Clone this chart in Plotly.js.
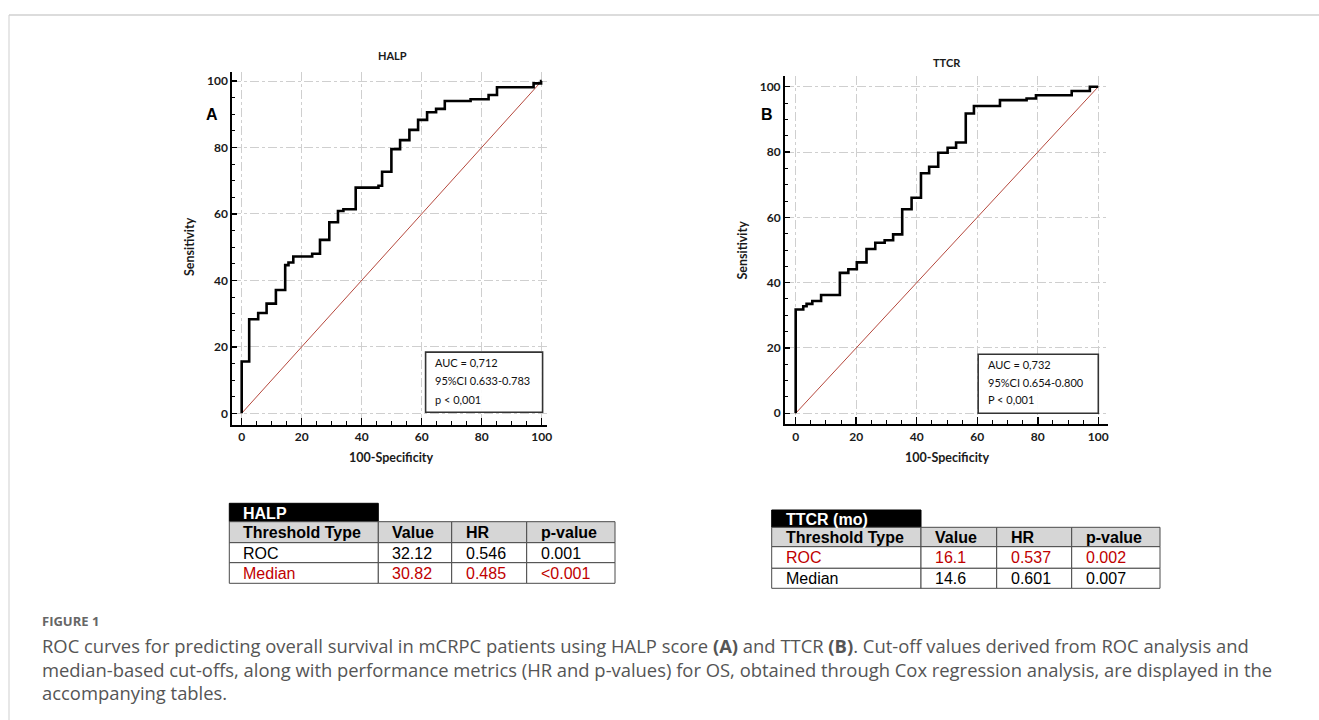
<!DOCTYPE html>
<html>
<head>
<meta charset="utf-8">
<script src="https://cdn.plot.ly/plotly-3.0.1.min.js"></script>
<style>html,body{margin:0;padding:0;background:#fff;}#chart{width:1319px;height:720px;}</style>
</head>
<body>
<div id="chart"></div>
<script>
// ---------- data ----------
const halpFPR  = [0, 0, 2.5, 5.5, 8.3, 11.4, 14.5, 15.6, 17.2, 23.5, 26.1, 29.2, 32.1, 33.9, 38.0, 45.6, 46.8, 49.9, 52.8, 55.9, 58.8, 61.8, 64.8, 67.7, 76.3, 82.3, 85.1, 97.3, 99.8, 100];
const halpSens = [0, 15.6, 28.3, 30.2, 33.0, 37.1, 44.6, 45.4, 47.2, 48.0, 52.2, 57.5, 60.9, 61.4, 67.9, 68.5, 72.7, 79.5, 82.2, 85.3, 88.3, 90.6, 91.6, 94.0, 94.5, 95.8, 98.1, 99.3, 100, 100];
const ttcrFPR  = [0, 0, 2.5, 3.6, 5.5, 8.4, 14.6, 17.4, 20.2, 23.4, 26.3, 29.4, 32.2, 35.2, 38.3, 41.4, 44.1, 47.1, 50.2, 53.0, 56.2, 58.9, 67.5, 76.3, 79.4, 91.2, 97.2, 100];
const ttcrSens = [0, 31.8, 32.8, 33.5, 34.4, 36.2, 43.0, 44.1, 46.2, 50.3, 52.2, 53.0, 54.8, 62.5, 66.0, 73.5, 75.5, 79.8, 81.3, 82.9, 91.8, 94.1, 95.9, 96.4, 97.4, 98.7, 100, 100];
const diagonal = [0, 100];
const tickVals = [0, 20, 40, 60, 80, 100];

const halpStats = ['AUC = 0,712', '95%CI 0.633-0.783', 'p < 0,001'];
const ttcrStats = ['AUC = 0,732', '95%CI 0.654-0.800', 'P < 0,001'];

const tableHeader = ['Threshold Type', 'Value', 'HR', 'p-value'];
const halpTypes = ['ROC', 'Median'];
const halpValue = ['32.12', '30.82'];
const halpHR    = ['0.546', '0.485'];
const halpP     = ['0.001', '<0.001'];
const halpRed   = [false, true];
const ttcrTypes = ['ROC', 'Median'];
const ttcrValue = ['16.1', '14.6'];
const ttcrHR    = ['0.537', '0.601'];
const ttcrP     = ['0.002', '0.007'];
const ttcrRed   = [true, false];

const captionHead = 'FIGURE 1';
const captionLines = [
  'ROC curves for predicting overall survival in mCRPC patients using HALP score <b>(A)</b> and TTCR <b>(B)</b>. Cut-off values derived from ROC analysis and',
  'median-based cut-offs, along with performance metrics (HR and p-values) for OS, obtained through Cox regression analysis, are displayed in the',
  'accompanying tables.'
];

// ---------- helpers ----------
const W = 1319, H = 720;
const px = v => v / W;
const py = v => 1 - v / H;
const esc = s => String(s).replace(/&/g, '&amp;').replace(/</g, '&lt;');

const curveLine = {color: '#000', width: 2.6, shape: 'hv'};
const diagLine = {color: '#b5483d', width: 1};

const traces = [
  {x: diagonal, y: diagonal, mode: 'lines', line: diagLine, xaxis: 'x', yaxis: 'y', hoverinfo: 'skip'},
  {x: halpFPR, y: halpSens, mode: 'lines', line: curveLine, xaxis: 'x', yaxis: 'y'},
  {x: diagonal, y: diagonal, mode: 'lines', line: diagLine, xaxis: 'x2', yaxis: 'y2', hoverinfo: 'skip'},
  {x: ttcrFPR, y: ttcrSens, mode: 'lines', line: curveLine, xaxis: 'x2', yaxis: 'y2'}
];

const annotations = [];
const shapes = [];
function addText(text, x, y, font, opts) {
  annotations.push(Object.assign({text: text, x: px(x), y: py(y), xref: 'paper', yref: 'paper',
    showarrow: false, font: font, xanchor: 'center', yanchor: 'middle'}, opts || {}));
}
function addRect(x0, y0, x1, y1, fill, lineColor, lw) {
  shapes.push({type: 'rect', xref: 'paper', yref: 'paper', x0: px(x0), x1: px(x1), y0: py(y1), y1: py(y0),
    fillcolor: fill, line: {color: lineColor, width: lw}, layer: 'above'});
}

// ---------- tables (built from the arrays) ----------
const tblFont = 'Liberation Sans, Arial, sans-serif';
function drawTable(title, types, vals, hrs, ps, red, x0, colw, ytop, headH, rowH) {
  const cols = [types, vals, hrs, ps];
  const xs = [x0];
  colw.forEach(w => xs.push(xs[xs.length - 1] + w));
  addRect(xs[0], ytop, xs[1], ytop + headH, '#000', '#000', 1);
  addText('<b>' + esc(title) + '</b>', xs[0] + 12, ytop + headH / 2 + 0.5, {family: tblFont, size: 16, color: '#fff'}, {xanchor: 'left'});
  let y = ytop + headH;
  for (let c = 0; c < 4; c++) {
    addRect(xs[c], y, xs[c + 1], y + rowH[0], '#d6d6d6', '#4a4a4a', 1);
    addText('<b>' + esc(tableHeader[c]) + '</b>', xs[c] + 12, y + rowH[0] / 2 + 0.5, {family: tblFont, size: 16, color: '#000'}, {xanchor: 'left'});
  }
  y += rowH[0];
  for (let r = 0; r < types.length; r++) {
    const h = rowH[r + 1];
    const col = red[r] ? '#c00000' : '#000';
    for (let c = 0; c < 4; c++) {
      addRect(xs[c], y, xs[c + 1], y + h, '#fff', '#4a4a4a', 1);
      addText(esc(cols[c][r]), xs[c] + 12, y + h / 2 + 0.5, {family: tblFont, size: 16, color: col}, {xanchor: 'left'});
    }
    y += h;
  }
}
drawTable('HALP', halpTypes, halpValue, halpHR, halpP, halpRed, 229.3, [149, 73.4, 75, 88.3], 503.3, 18.4, [21, 20, 20.6]);
drawTable('TTCR (mo)', ttcrTypes, ttcrValue, ttcrHR, ttcrP, ttcrRed, 771.7, [149.3, 75.7, 75, 88.3], 510, 17.3, [19.4, 21.6, 20]);

// ---------- axes ----------
const tickFont = {family: 'Lato, sans-serif', size: 12, color: '#1a1a1a', weight: 'bold'};
const titleFont = {family: 'Lato, sans-serif', size: 12.5, color: '#1a1a1a', weight: 'bold'};

function xAxis(domain, range) {
  return {
    domain: domain, range: range, showline: true, linewidth: 2, linecolor: '#000', mirror: false,
    tickmode: 'array', tickvals: tickVals, ticks: 'inside', ticklen: 7, tickwidth: 1.5, tickcolor: '#000',
    minor: {dtick: 5, tick0: 0, ticks: 'inside', ticklen: 4, tickwidth: 1, tickcolor: '#000', showgrid: false},
    showgrid: true, gridcolor: '#cfcfcf', gridwidth: 1, griddash: 'dashdot', zeroline: false,
    tickfont: tickFont, fixedrange: true
  };
}
function yAxis(domain, range) {
  return {
    domain: domain, range: range, showline: true, linewidth: 2, linecolor: '#000', mirror: false,
    tickmode: 'array', tickvals: tickVals, ticks: 'inside', ticklen: 5, tickwidth: 1.5, tickcolor: '#000',
    minor: {dtick: 5, tick0: 0, ticks: 'inside', ticklen: 3, tickwidth: 1, tickcolor: '#000', showgrid: false},
    showgrid: true, gridcolor: '#cfcfcf', gridwidth: 1, griddash: 'dashdot', zeroline: false,
    tickfont: tickFont, fixedrange: true
  };
}

addText('<b>HALP</b>', 392, 56, {family: 'Lato, sans-serif', size: 11, color: '#1a1a1a'});
addText('<b>TTCR</b>', 947, 62, {family: 'Lato, sans-serif', size: 11, color: '#1a1a1a'});
addText('<b>A</b>', 212, 114, {family: 'Liberation Sans, Arial, sans-serif', size: 16, color: '#000'});
addText('<b>B</b>', 767, 115, {family: 'Liberation Sans, Arial, sans-serif', size: 16, color: '#000'});
addText('Sensitivity', 189, 247, titleFont, {textangle: -90});
addText('Sensitivity', 741.5, 250, titleFont, {textangle: -90});
addText('100-Specificity', 391, 457, titleFont);
addText('100-Specificity', 946.5, 457, titleFont);
const statFont = {family: 'Lato, sans-serif', size: 11, color: '#111'};
[362.7, 380.7, 399].forEach((yy, i) => addText(esc(halpStats[i]), 433, yy, statFont, {xanchor: 'left'}));
[364.3, 382.3, 399].forEach((yy, i) => addText(esc(ttcrStats[i]), 986, yy, statFont, {xanchor: 'left'}));
addText('<b>' + captionHead + '</b>', 40, 621, {family: 'Open Sans, sans-serif', size: 13, color: '#666'}, {xanchor: 'left'});
[645, 669, 692].forEach((yy, i) => addText(captionLines[i], 40, yy, {family: 'Open Sans, sans-serif', size: 18.4, color: '#555'}, {xanchor: 'left'}));

shapes.push({type: 'rect', xref: 'x', yref: 'y', x0: 61.3, x1: 100.3, y0: 0.3, y1: 18.4, line: {color: '#333', width: 1.6}, fillcolor: 'rgba(255,255,255,0.9)', layer: 'above'});
shapes.push({type: 'rect', xref: 'x2', yref: 'y2', x0: 60.3, x1: 100, y0: 0, y1: 18.1, line: {color: '#333', width: 1.6}, fillcolor: 'rgba(255,255,255,0.9)', layer: 'above'});
shapes.push({type: 'line', xref: 'paper', yref: 'paper', x0: px(9), x1: 1, y0: py(15), y1: py(15), line: {color: '#dcdcdc', width: 2}});
shapes.push({type: 'line', xref: 'paper', yref: 'paper', x0: px(9), x1: px(9), y0: py(15), y1: 0, line: {color: '#cfcfcf', width: 1}});

const layout = {
  width: W, height: H,
  margin: {l: 0, r: 0, t: 0, b: 0},
  paper_bgcolor: '#fff', plot_bgcolor: '#fff',
  showlegend: false,
  xaxis: Object.assign(xAxis([px(232.3), px(546.7)], [-3.13, 101.67]), {anchor: 'y'}),
  yaxis: Object.assign(yAxis([py(425), py(71.7)], [-3.52, 102.8]), {anchor: 'x'}),
  xaxis2: Object.assign(xAxis([px(785), px(1108.3)], [-3.53, 103.3]), {anchor: 'y2'}),
  yaxis2: Object.assign(yAxis([py(424.3), py(76)], [-3.37, 103.28]), {anchor: 'x2'}),
  annotations: annotations,
  shapes: shapes
};

Plotly.newPlot('chart', traces, layout, {staticPlot: true, displayModeBar: false});
</script>
</body>
</html>
